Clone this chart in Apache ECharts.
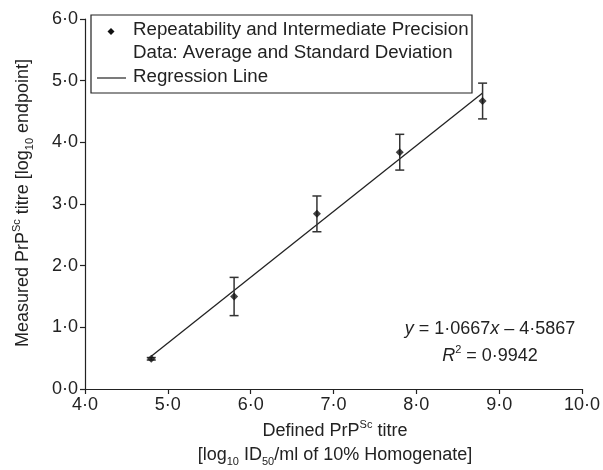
<!DOCTYPE html>
<html><head><meta charset="utf-8">
<script src="https://cdn.jsdelivr.net/npm/echarts@6/dist/echarts.min.js"></script>
<style>html,body{margin:0;padding:0;background:#fff}#c{width:603px;height:470px}</style>
</head><body><div id="c"></div>
<script>
// Data
const titres = [4.8, 5.8, 6.8, 7.8, 8.8];      // defined titre (x)
const means  = [0.49, 1.50, 2.84, 3.84, 4.67]; // measured average (y)
const sds    = [0.02, 0.31, 0.29, 0.29, 0.29]; // standard deviation
const regX   = [4.8, 8.8];                     // regression line ends (x)
const regY   = [0.53, 4.80];                   // regression line ends (y)
const xRange = [4, 10, 1];
const yRange = [0, 6, 1];

const FONT = "'Liberation Sans', Arial, sans-serif";
const TXT = '#222';
const fmt = v => v.toFixed(1).replace('.', '\u00B7');
function rich(fs) {
  return {
    sup: {fontSize: 11, verticalAlign: 'top', lineHeight: 24, fontFamily: FONT, fill: TXT},
    sub: {fontSize: 11, verticalAlign: 'bottom', lineHeight: 24, fontFamily: FONT, fill: TXT},
    i:   {fontStyle: 'italic', fontSize: fs, lineHeight: 24, fontFamily: FONT, fill: TXT}
  };
}
function txt(x, y, text, opts) {
  const fs = (opts && opts.fs) || 18;
  return Object.assign({
    type: 'text', x: x, y: y, silent: true,
    style: Object.assign({
      text: text, fontSize: fs, lineHeight: 24, fontFamily: FONT, fill: TXT,
      align: 'left', verticalAlign: 'middle', rich: rich(fs)
    }, (opts && opts.style) || {})
  }, (opts && opts.extra) || {});
}

const chart = echarts.init(document.getElementById('c'), null, {renderer: 'canvas'});
const axisCommon = {
  type: 'value',
  axisLine: {show: true, lineStyle: {color: '#222', width: 1.2}},
  axisTick: {show: true, length: 5, lineStyle: {color: '#222', width: 1.2}},
  splitLine: {show: false},
  axisLabel: {fontSize: 18, color: TXT, fontFamily: FONT, formatter: fmt}
};
chart.setOption({
  animation: false,
  backgroundColor: '#fff',
  grid: {left: 85, right: 18, top: 19, bottom: 81},
  xAxis: Object.assign({}, axisCommon, {min: xRange[0], max: xRange[1], interval: xRange[2],
    axisLabel: Object.assign({}, axisCommon.axisLabel, {margin: 7})}),
  yAxis: Object.assign({}, axisCommon, {min: yRange[0], max: yRange[1], interval: yRange[2],
    axisLabel: Object.assign({}, axisCommon.axisLabel, {margin: 7})}),
  series: [
    {
      type: 'line', name: 'Regression Line',
      data: regX.map((x, i) => [x, regY[i]]),
      symbol: 'none', lineStyle: {color: '#222', width: 1.3}, z: 2
    },
    {
      type: 'custom', name: 'sd',
      data: titres.map((x, i) => [x, means[i] - sds[i], means[i] + sds[i]]),
      encode: {x: 0, y: [1, 2]},
      renderItem: function (params, api) {
        const x = api.value(0);
        const pLo = api.coord([x, api.value(1)]);
        const pHi = api.coord([x, api.value(2)]);
        const w = 4.5;
        const st = {stroke: '#333', lineWidth: 1.5};
        return {type: 'group', children: [
          {type: 'line', shape: {x1: pLo[0], y1: pLo[1], x2: pHi[0], y2: pHi[1]}, style: st},
          {type: 'line', shape: {x1: pLo[0] - w, y1: pLo[1], x2: pLo[0] + w, y2: pLo[1]}, style: st},
          {type: 'line', shape: {x1: pHi[0] - w, y1: pHi[1], x2: pHi[0] + w, y2: pHi[1]}, style: st}
        ]};
      }, z: 3
    },
    {
      type: 'scatter', name: 'Repeatability and Intermediate Precision',
      data: titres.map((x, i) => [x, means[i]]),
      symbol: 'diamond', symbolSize: 8,
      itemStyle: {color: '#111'}, z: 4
    }
  ],
  graphic: [
    // legend
    {type: 'rect', shape: {x: 91, y: 15, width: 381, height: 78},
     style: {fill: '#fff', stroke: '#222', lineWidth: 1.2}, z: 10},
    {type: 'polygon', shape: {points: [[111, 28], [114.5, 31.5], [111, 35], [107.5, 31.5]]},
     style: {fill: '#111'}, z: 11},
    {type: 'line', shape: {x1: 97, y1: 78, x2: 126, y2: 78},
     style: {stroke: '#333', lineWidth: 1.3}, z: 11},
    Object.assign(txt(133, 30, 'Repeatability and Intermediate Precision', {fs: 18.7}), {z: 11}),
    Object.assign(txt(133, 53, 'Data: Average and Standard Deviation', {fs: 18.7}), {z: 11}),
    Object.assign(txt(133, 77, 'Regression Line', {fs: 18.7}), {z: 11}),
    // equation
    txt(490, 329, '{i|y} = 1\u00B70667{i|x} \u2013 4\u00B75867', {style: {align: 'center'}}),
    txt(490, 356, '{i|R}{sup|2} = 0\u00B79942', {style: {align: 'center'}}),
    // x title
    txt(335, 431, 'Defined PrP{sup|Sc} titre', {style: {align: 'center'}}),
    txt(335, 455, '[log{sub|10} ID{sub|50}/ml of 10% Homogenate]', {style: {align: 'center'}}),
    // y title
    txt(23, 203, 'Measured PrP{sup|Sc} titre [log{sub|10} endpoint]',
        {style: {align: 'center'}, extra: {rotation: Math.PI / 2}})
  ]
});
</script>
</body></html>
